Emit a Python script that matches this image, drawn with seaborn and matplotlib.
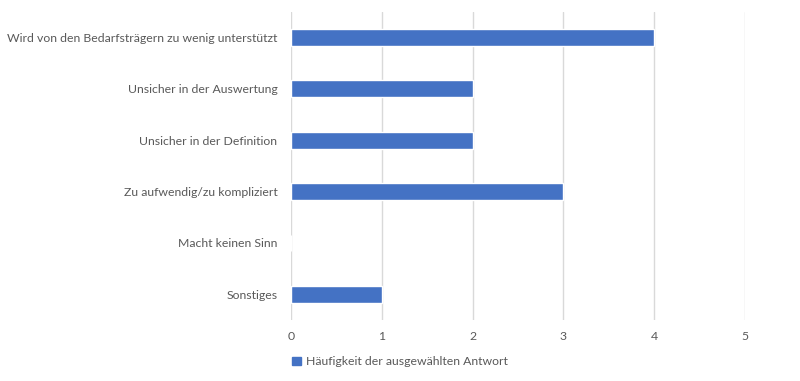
import matplotlib
matplotlib.use("Agg")
import matplotlib.pyplot as plt
import seaborn as sns
import pandas as pd

categories = [
    "Wird von den Bedarfsträgern zu wenig unterstützt",
    "Unsicher in der Auswertung",
    "Unsicher in der Definition",
    "Zu aufwendig/zu kompliziert",
    "Macht keinen Sinn",
    "Sonstiges",
]
counts = [4, 2, 2, 3, 0, 1]
series_name = "Häufigkeit der ausgewählten Antwort"

df = pd.DataFrame({"Kategorie": categories, "Anzahl": counts, "Serie": series_name})

sns.set_style("white")
plt.rcParams["font.family"] = ["Lato", "DejaVu Sans"]
text_color = "#595959"

fig = plt.figure(figsize=(8, 3.81), dpi=100)
ax = fig.add_axes([0.364, 0.16, 0.567, 0.809])

sns.barplot(data=df, y="Kategorie", x="Anzahl", hue="Serie", orient="h",
            palette=["#4472C4"], saturation=1, width=0.33, ax=ax,
            legend=False, zorder=3)

ax.set_xlim(0, 5)
ax.set_ylim(5.5, -0.5)
ax.set_xticks(range(0, 6))
ax.grid(axis="x", color="#D9D9D9", linewidth=1, zorder=0)
ax.grid(axis="y", visible=False)
for s in ax.spines.values():
    s.set_visible(False)
ax.tick_params(axis="both", length=0, labelsize=8.8, colors=text_color)
ax.tick_params(axis="x", pad=8)
ax.tick_params(axis="y", pad=10)
ax.set_xlabel("")
ax.set_ylabel("")

handle = plt.Rectangle((0, 0), 1, 1, color="#4472C4")
fig.legend([handle], [series_name], loc="center", bbox_to_anchor=(0.5, 0.05),
           frameon=False, fontsize=8.8, labelcolor=text_color,
           handlelength=0.7, handleheight=0.7, handletextpad=0.4)

fig.savefig("out.png", dpi=100)
